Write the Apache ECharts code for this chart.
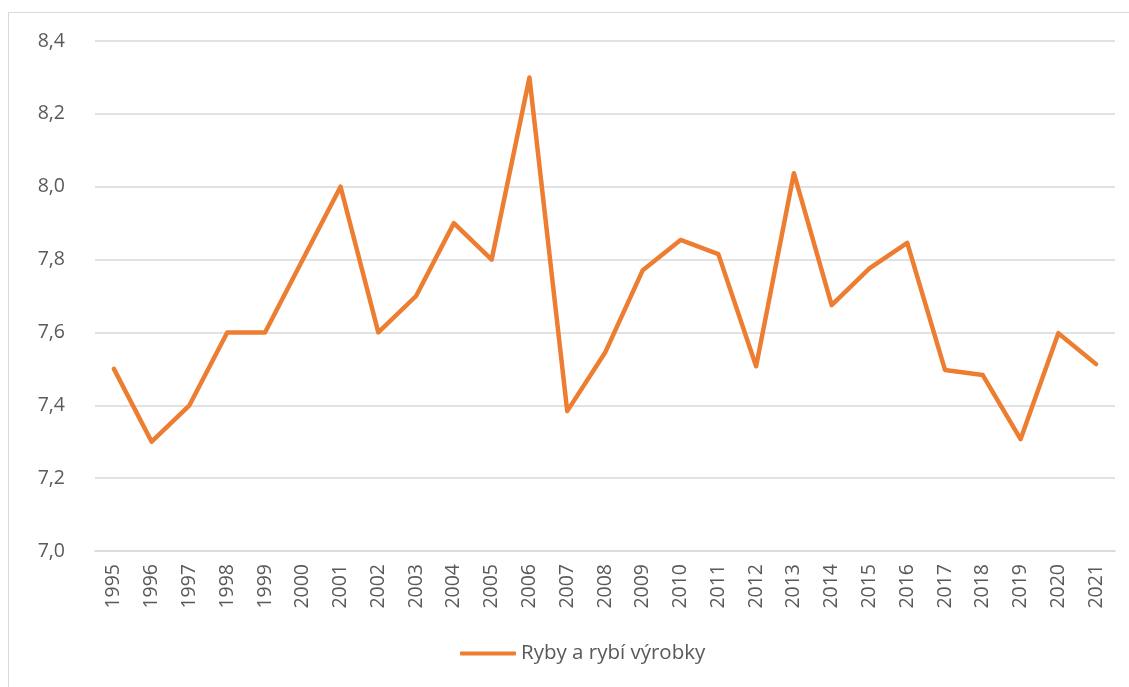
<!DOCTYPE html>
<html>
<head>
	<meta charset="utf-8">
	<title>Ryby a rybí výrobky</title>
	<script src="https://cdn.jsdelivr.net/npm/echarts@6/dist/echarts.min.js"></script>
	<style>
		html, body { margin: 0; padding: 0; background: #ffffff; }
		#frame { position: absolute; left: 8px; top: 12px; width: 1140px; height: 700px; border: 1px solid #d9d9d9; }
		#main { position: absolute; left: 0; top: 0; width: 1129px; height: 687px; }
	</style>
</head>
<body>
	<div id="frame"></div>
	<div id="main"></div>
	<script>
		// roky a hodnoty
		var years = ['1995', '1996', '1997', '1998', '1999', '2000', '2001', '2002', '2003', '2004',
			'2005', '2006', '2007', '2008', '2009', '2010', '2011', '2012', '2013', '2014',
			'2015', '2016', '2017', '2018', '2019', '2020', '2021'];
		var ryby = [7.50, 7.30, 7.40, 7.60, 7.60, 7.80, 8.00, 7.60, 7.70, 7.90,
			7.80, 8.30, 7.384, 7.544, 7.771, 7.854, 7.815, 7.507, 8.037, 7.675,
			7.776, 7.846, 7.497, 7.483, 7.307, 7.598, 7.513];
		var seriesName = 'Ryby a rybí výrobky';

		var myChart = echarts.init(document.getElementById('main'));
		var option = {
			animation: false,
			textStyle: { fontFamily: '"Open Sans", "Noto Sans", sans-serif' },
			grid: { left: 95, right: 14, top: 41, bottom: 136 },
			legend: {
				data: [seriesName],
				bottom: 18,
				left: 455,
				itemWidth: 56,
				itemHeight: 4,
				icon: 'roundRect',
				textStyle: { color: '#595959', fontSize: 20.5 }
			},
			xAxis: {
				type: 'category',
				data: years,
				boundaryGap: true,
				axisLine: { show: true, lineStyle: { color: '#d9d9d9', width: 1.5 } },
				axisTick: { show: false },
				axisLabel: { rotate: 90, color: '#595959', fontSize: 19.5, margin: 13 }
			},
			yAxis: {
				type: 'value',
				min: 7.0,
				max: 8.4,
				interval: 0.2,
				axisLine: { show: false },
				axisTick: { show: false },
				splitLine: { lineStyle: { color: '#d9d9d9', width: 1.5 } },
				axisLabel: {
					color: '#595959',
					fontSize: 19.5,
					margin: 30,
					formatter: function (v) { return v.toFixed(1).replace('.', ','); }
				}
			},
			series: [{
				name: seriesName,
				type: 'line',
				data: ryby,
				showSymbol: false,
				symbol: 'none',
				lineStyle: { color: '#ed7d31', width: 4.5, cap: 'round', join: 'round' },
				itemStyle: { color: '#ed7d31' }
			}]
		};
		myChart.setOption(option);
	</script>
</body>
</html>
